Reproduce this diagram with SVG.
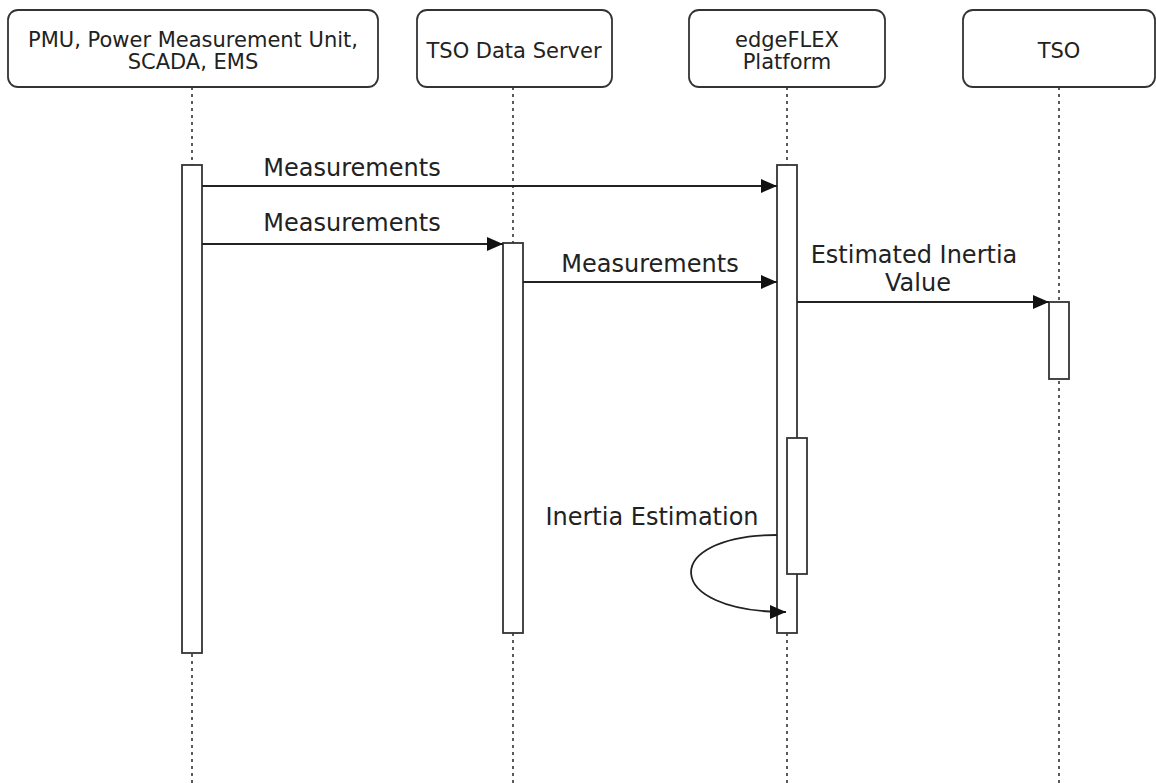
<svg xmlns="http://www.w3.org/2000/svg" width="1156" height="783" viewBox="0 0 1156 783">
<style>
.box{fill:#fff;stroke:#333;stroke-width:1.8}
.life{stroke:#333;stroke-width:1.6;stroke-dasharray:3 4;fill:none}
.bar{fill:#fff;stroke:#333;stroke-width:1.8}
.msg{stroke:#222;stroke-width:1.8;fill:none;marker-end:url(#arr)}
.h{font-family:"DejaVu Sans",Verdana,sans-serif;font-size:21px;fill:#222;text-anchor:middle}
.l{font-family:"DejaVu Sans",Verdana,sans-serif;font-size:24px;fill:#222;text-anchor:middle}
</style>
<defs>
<marker id="arr" viewBox="0 0 16 14" refX="16" refY="7" markerWidth="16" markerHeight="14" markerUnits="userSpaceOnUse" orient="auto">
<path d="M0,0 L16,7 L0,14 Z" fill="#111"/>
</marker>
</defs>
<rect width="1156" height="783" fill="#fff"/>
<g id="lifelines">
<line class="life" x1="192" y1="87" x2="192" y2="783"/>
<line class="life" x1="513" y1="87" x2="513" y2="783"/>
<line class="life" x1="787" y1="87" x2="787" y2="783"/>
<line class="life" x1="1059" y1="87" x2="1059" y2="783"/>
</g>
<g id="node-pmu">
<rect class="box" x="8" y="10" width="370" height="77" rx="10"/>
<text class="h" x="193" y="47">PMU, Power Measurement Unit,</text>
<text class="h" x="193" y="69">SCADA, EMS</text>
</g>
<g id="node-tso-data-server">
<rect class="box" x="417" y="10" width="195" height="77" rx="10"/>
<text class="h" x="514" y="58">TSO Data Server</text>
</g>
<g id="node-edgeflex">
<rect class="box" x="689" y="10" width="196" height="77" rx="10"/>
<text class="h" x="787" y="47">edgeFLEX</text>
<text class="h" x="787" y="69">Platform</text>
</g>
<g id="node-tso">
<rect class="box" x="963" y="10" width="192" height="77" rx="10"/>
<text class="h" x="1059" y="58">TSO</text>
</g>
<g id="activations">
<rect class="bar" x="182" y="165" width="20" height="488"/>
<rect class="bar" x="503" y="243" width="20" height="390"/>
<rect class="bar" x="777" y="165" width="20" height="468"/>
<rect class="bar" x="787" y="438" width="20" height="136"/>
<rect class="bar" x="1049" y="302" width="20" height="77"/>
</g>
<g id="connectors">
<line class="msg" x1="202" y1="186" x2="777" y2="186"/>
<line class="msg" x1="202" y1="244" x2="503" y2="244"/>
<line class="msg" x1="523" y1="282" x2="777" y2="282"/>
<line class="msg" x1="797" y1="302" x2="1049" y2="302"/>
<path class="msg" d="M777,535 C661,535 661,612 786,612"/>
</g>
<g id="labels">
<text class="l" x="352" y="176">Measurements</text>
<text class="l" x="352" y="231">Measurements</text>
<text class="l" x="650" y="272">Measurements</text>
<text class="l" x="914" y="263">Estimated Inertia</text>
<text class="l" x="918" y="291">Value</text>
<text class="l" x="652" y="525">Inertia Estimation</text>
</g>
</svg>
